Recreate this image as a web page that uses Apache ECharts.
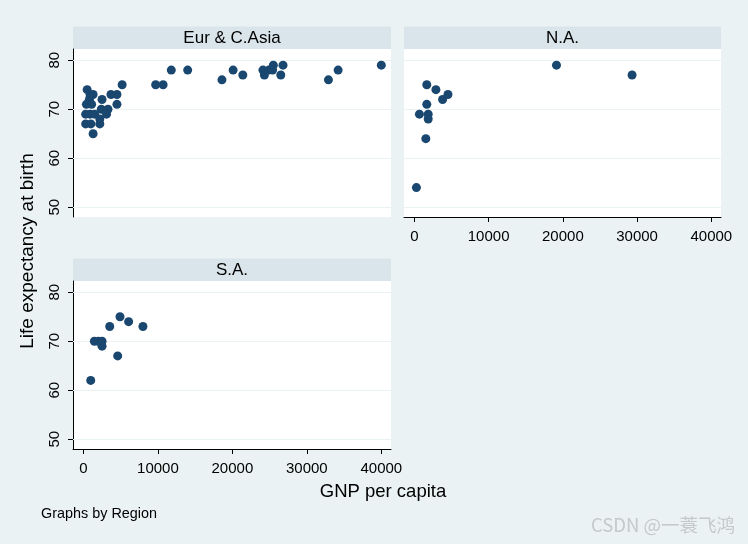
<!DOCTYPE html>
<html>
<head>
<meta charset="utf-8">
<script src="https://cdn.jsdelivr.net/npm/echarts@6/dist/echarts.min.js"></script>
<style>
html,body{margin:0;padding:0;background:#EAF2F3;}
#chart{width:748px;height:544px;}
</style>
</head>
<body>
<div id="chart"></div>
<script>
// ---- data ----
var panelTitles = ['Eur & C.Asia', 'N.A.', 'S.A.'];
var eurGnp  = [500,900,1300,800,400,1100,300,900,1500,300,1000,1300,2500,2400,3300,3100,2200,2200,3700,4500,4500,5200,9700,10700,11800,14000,18600,20100,21400,24100,24300,24900,25400,25500,26500,26800,32900,34200,40000];
var eurLife = [74,73,73,72,71,71,69,69,69,67,67,65,72,70,70,69,68,67,73,73,71,75,75,75,78,78,76,78,77,78,77,78,78,79,77,79,76,78,79];
var naGnp   = [270,680,1540,1670,1670,1860,1860,2900,3800,4520,19140,29320];
var naLife  = [54,69,64,75,71,69,68,74,72,73,79,77];
var saGnp   = [980,1470,2010,2500,2500,3530,4600,4910,6070,7990];
var saLife  = [62,70,70,70,69,73,67,75,74,73];
var xTicks = [0,10000,20000,30000,40000];
var yTicks = [50,60,70,80];

function pairs(xs, ys){ return xs.map(function(x,i){ return [x, ys[i]]; }); }

var BG = '#EAF2F3', STRIP = '#D9E5EA', MARK = '#1A476F', GRIDC = '#EAF2F3';
var FONT = 'Liberation Sans, Arial, sans-serif';

var grids = [
  {left:73, top:49, width:318, height:168},
  {left:404, top:49, width:317, height:168},
  {left:73, top:281, width:318, height:168}
];

function plain(v){ return String(v); }

function xAxis(i, show){
  return {
    type:'value', gridIndex:i, min:-1400, max:41300,
    axisLine:{show:show, onZero:false, lineStyle:{color:'#000', width:1}},
    axisTick:{show:show, length:5, customValues:xTicks, lineStyle:{color:'#000'}},
    axisLabel:{show:show, customValues:xTicks, formatter:plain, margin:12, color:'#000', fontSize:15, fontFamily:FONT},
    splitLine:{show:false}
  };
}
function yAxis(i, show){
  return {
    type:'value', gridIndex:i, min:48, max:82.3,
    axisLine:{show:show, onZero:false, lineStyle:{color:'#000', width:1}},
    axisTick:{show:show, length:5, customValues:yTicks, lineStyle:{color:'#000'}},
    axisLabel:{show:show, customValues:yTicks, formatter:plain, rotate:90, margin:11, color:'#000', fontSize:15, fontFamily:FONT},
    splitLine:{show:false}
  };
}

function gridSeries(i){
  return {
    type:'line', xAxisIndex:i, yAxisIndex:i, data:[], z:1, silent:true,
    markLine:{silent:true, z:1, symbol:['none','none'], label:{show:false},
      lineStyle:{color:GRIDC, type:'solid', width:1.2},
      data: yTicks.map(function(v){ return {yAxis:v}; })}
  };
}
function scatter(i, xs, ys){
  return {
    type:'scatter', xAxisIndex:i, yAxisIndex:i, z:5,
    symbol:'circle', symbolSize:9,
    itemStyle:{color:MARK, opacity:1},
    data: pairs(xs, ys)
  };
}

var strips = [
  {x:73, y:26.5, w:318, h:22.5},
  {x:404, y:26.5, w:317, h:22.5},
  {x:73, y:258.5, w:318, h:22.5}
];
var graphics = [];
strips.forEach(function(s, i){
  graphics.push({type:'rect', shape:{x:s.x, y:s.y, width:s.w, height:s.h}, style:{fill:STRIP}, silent:true});
  graphics.push({type:'text', x:s.x + s.w/2, y:s.y + s.h/2 + 0.5,
    style:{text:panelTitles[i], fill:'#000', font:'17px ' + FONT, align:'center', verticalAlign:'middle'}, silent:true});
});
graphics.push({type:'text', x:28, y:251, rotation:Math.PI/2,
  style:{text:'Life expectancy at birth', fill:'#000', font:'19px ' + FONT, align:'center', verticalAlign:'middle'}});
graphics.push({type:'text', x:383, y:492,
  style:{text:'GNP per capita', fill:'#000', font:'18.5px ' + FONT, align:'center', verticalAlign:'middle'}});
graphics.push({type:'text', x:41, y:514,
  style:{text:'Graphs by Region', fill:'#000', font:'14.4px ' + FONT, align:'left', verticalAlign:'middle'}});
graphics.push({type:'text', x:735, y:525,
  style:{text:'CSDN @一蓑飞鸿', fill:'#C4C9CC', font:'18.5px "Noto Sans CJK SC", "Noto Sans", sans-serif', align:'right', verticalAlign:'middle'}});

var chart = echarts.init(document.getElementById('chart'), null, {renderer:'canvas'});
chart.setOption({
  backgroundColor: BG,
  animation:false,
  grid: grids.map(function(g){ return Object.assign({show:true, backgroundColor:'#fff', borderWidth:0, containLabel:false}, g); }),
  xAxis:[xAxis(0,false), xAxis(1,true), xAxis(2,true)],
  yAxis:[yAxis(0,true), yAxis(1,false), yAxis(2,true)],
  series:[
    gridSeries(0), gridSeries(1), gridSeries(2),
    scatter(0, eurGnp, eurLife),
    scatter(1, naGnp, naLife),
    scatter(2, saGnp, saLife)
  ],
  graphic: graphics
});
</script>
</body>
</html>
